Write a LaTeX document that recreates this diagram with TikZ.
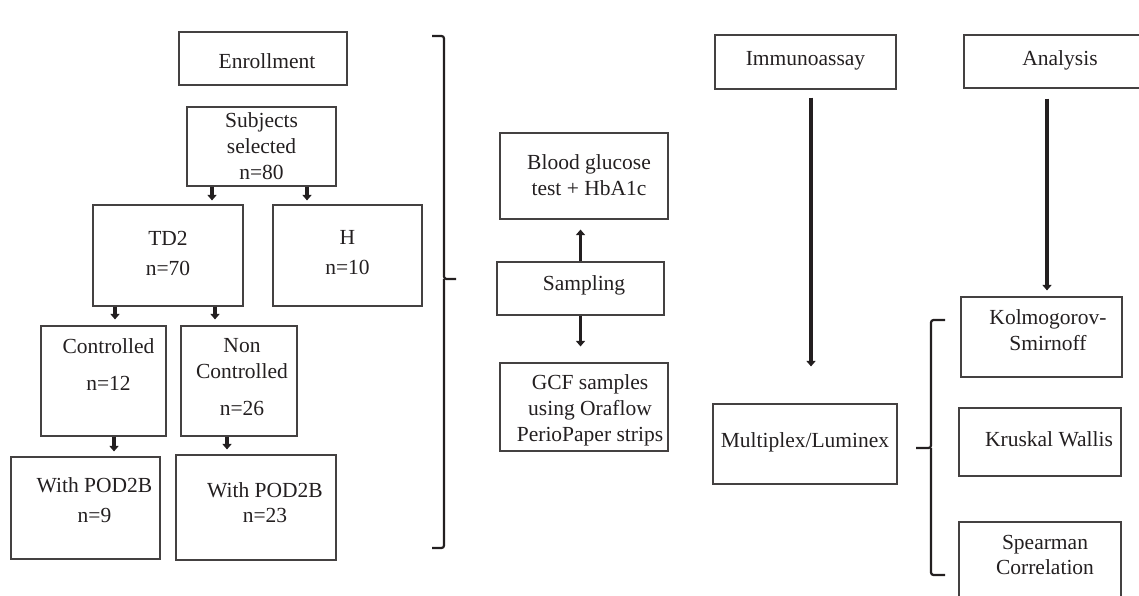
\documentclass[tikz,border=0pt]{standalone}
\usepackage{fontspec}
\setmainfont{Liberation Serif}
\usetikzlibrary{arrows.meta}
\definecolor{ink}{HTML}{231F20}

\begin{document}
\begin{tikzpicture}[x=1pt, y=-1pt,
  box/.style 2 args={draw=ink!85, line width=1.1pt, minimum width=#1, minimum height=#2, inner sep=0pt},
  txt/.style={align=center, text=ink, font=\fontsize{21.5}{26}\selectfont, inner sep=0pt},
  arr/.style={ink, line width=3.4pt, -{Triangle[length=5.5pt, width=9pt]}},
  brace/.style={ink, line width=2.2pt, rounded corners=2.5pt}]
\useasboundingbox (0,0) rectangle (1139,596);
% enrollment column
\node[box={168pt}{53pt}, label={[txt, xshift=4pt, yshift=-2.5pt]center:Enrollment}] (enroll) at (263,58.5) {};
\node[box={149pt}{79pt}, label={[txt]center:Subjects\\selected\\n=80}] (subj) at (261.5,146.5) {};
\node[box={150pt}{101pt}, label={[txt, yshift=2.5pt]center:TD2\\[4pt]n=70}] (td2) at (168,255.5) {};
\node[box={149pt}{101pt}, label={[txt, yshift=2.5pt]center:H\\[4pt]n=10}] (hgrp) at (347.5,255.5) {};
\node[box={125pt}{110pt}, label={[txt, xshift=5pt, yshift=16.5pt]center:Controlled\\[11pt]n=12}] (ctrl) at (103.5,381) {};
\node[box={116pt}{110pt}, label={[txt, xshift=3pt, yshift=3.5pt]center:Non\\Controlled\\[11pt]n=26}] (nonc) at (239,381) {};
\node[box={149pt}{102pt}, label={[txt, xshift=9pt, yshift=8pt]center:With POD2B\\[4pt]n=9}] (podc) at (85.5,508) {};
\node[box={160pt}{105pt}, label={[txt, xshift=9pt, yshift=5pt]center:With POD2B\\[-1pt]n=23}] (podn) at (256,507.5) {};
\foreach \g/\dx in {td2/44, hgrp/-40.5}
  \draw[arr, shorten >=4pt] ([xshift=\dx pt]\g.north |- subj.south) -- ([xshift=\dx pt]\g.north);
\draw[arr, shorten >=6pt] ([xshift=11.5pt]ctrl.north |- td2.south) -- ([xshift=11.5pt]ctrl.north);
\draw[arr, shorten >=6pt] ([xshift=-24pt]nonc.north |- td2.south) -- ([xshift=-24pt]nonc.north);
\draw[arr, shorten >=5pt] ([xshift=28.5pt]podc.north |- ctrl.south) -- ([xshift=28.5pt]podc.north);
\draw[arr, shorten >=5pt] ([xshift=-29pt]podn.north |- nonc.south) -- ([xshift=-29pt]podn.north);
\draw[brace] (432,36) -| (444,279) -- (456,279);
\draw[brace] (444,279) |- (432,548);
% sampling column
\node[box={168pt}{86pt}, label={[txt, xshift=5pt, yshift=0.5pt]center:Blood glucose\\test + HbA1c}] (blood) at (584,176) {};
\node[box={167pt}{53pt}, label={[txt, xshift=3.5pt, yshift=3.5pt]center:Sampling}] (samp) at (580.5,288.5) {};
\node[box={168pt}{88pt}, label={[txt, xshift=6pt, yshift=-3pt]center:GCF samples\\using Oraflow\\PerioPaper strips}] (gcf) at (584,407) {};
\draw[arr, shorten >=10pt] (samp.north) -- (samp.north |- blood.south);
\draw[arr, shorten >=16pt] (samp.south) -- (samp.south |- gcf.north);
% immunoassay and analysis
\node[box={181pt}{54pt}, label={[txt, yshift=1pt]center:Immunoassay}] (immuno) at (805.5,62) {};
\node[box={184pt}{80pt}, label={[txt, yshift=2pt]center:Multiplex/Luminex}] (multi) at (805,444) {};
\node[box={190pt}{53pt}, label={[txt, xshift=1pt, yshift=1.5pt]center:Analysis}] (analysis) at (1059,61.5) {};
\node[box={161pt}{80pt}, label={[txt, xshift=6.5pt, yshift=7pt]center:Kolmogorov-\\Smirnoff}] (kolm) at (1041.5,337) {};
\node[box={162pt}{68pt}, label={[txt, xshift=9pt, yshift=3pt]center:Kruskal Wallis}] (krus) at (1040,442) {};
\node[box={162pt}{83pt}, label={[txt, xshift=5pt, yshift=9pt]center:Spearman\\[-1pt]Correlation}] (spear) at (1040,563.5) {};
\draw[arr, shorten <=8pt, shorten >=37pt] ([xshift=5.5pt]immuno.south) -- ([xshift=5.5pt]immuno.south |- multi.north);
\draw[arr, shorten <=10pt, shorten >=6pt] ([xshift=5.5pt]kolm.north |- analysis.south) -- ([xshift=5.5pt]kolm.north);
\draw[brace] (945,320) -| (931,448) -- (916,448);
\draw[brace] (931,448) |- (945,575);
\end{tikzpicture}
\end{document}
